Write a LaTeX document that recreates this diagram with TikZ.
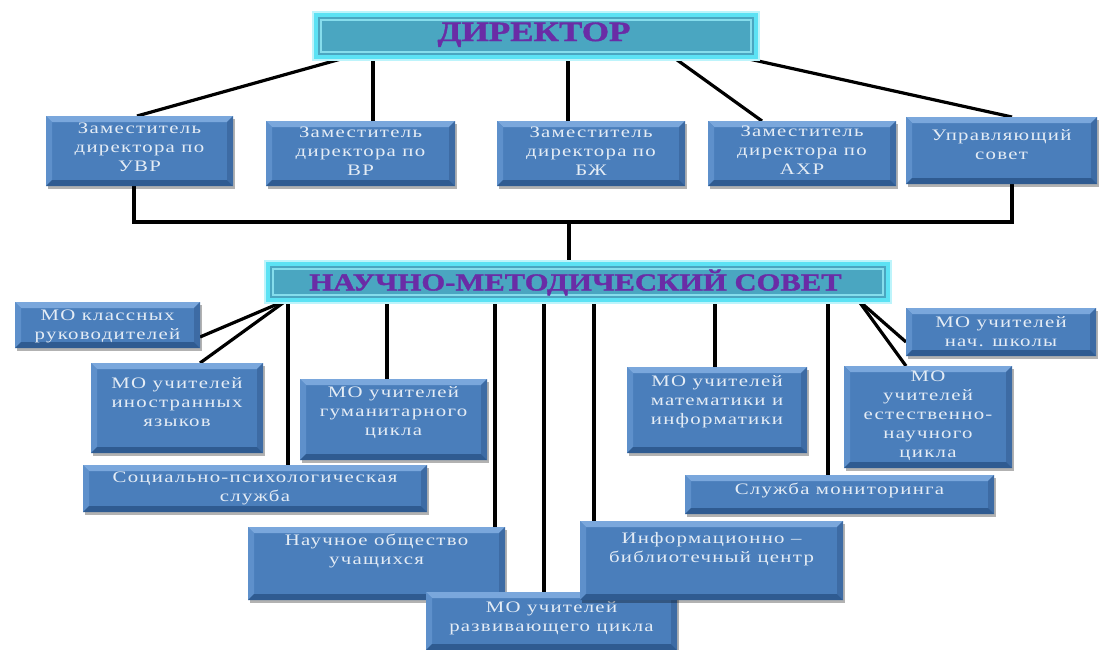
\documentclass[tikz,border=0pt]{standalone}
\usepackage{fontspec}
\setmainfont{Liberation Serif}
\newfontfamily\bxfont{Liberation Serif}[FakeStretch=1.3,LetterSpace=8]
\newfontfamily\ttlfont{Liberation Serif}[FakeStretch=1.25,FakeBold=1.5]
\usetikzlibrary{shadows,backgrounds,calc}
\definecolor{bxmid}{HTML}{4A7EBB}
\definecolor{bxtop}{HTML}{7AA7DC}
\definecolor{bxleft}{HTML}{5E90CB}
\definecolor{bxright}{HTML}{3D6BA4}
\definecolor{bxbot}{HTML}{2F5B91}
\definecolor{bxtext}{HTML}{E4ECF5}
\definecolor{cyband}{HTML}{5CE2F4}
\definecolor{cyglow}{HTML}{BDF4FB}
\definecolor{cyfill}{HTML}{4AA6C1}
\definecolor{cyinner}{HTML}{86DDEC}
\definecolor{ttl}{HTML}{6A2CA6}
\tikzset{
  bx/.style={fill=bxmid, inner sep=0pt, outer sep=0pt,
    drop shadow={shadow xshift=2pt, shadow yshift=-3pt, opacity=.3, fill=black},
    path picture={
      \path (path picture bounding box.north west) coordinate (bbA)
            (path picture bounding box.north east) coordinate (bbB)
            (path picture bounding box.south east) coordinate (bbC)
            (path picture bounding box.south west) coordinate (bbD);
      \fill[bxtop] (bbA) -- (bbB) -- ([shift={(-6pt,-6pt)}]bbB) -- ([shift={(6pt,-6pt)}]bbA) -- cycle;
      \fill[bxleft] (bbA) -- ([shift={(6pt,-6pt)}]bbA) -- ([shift={(6pt,6pt)}]bbD) -- (bbD) -- cycle;
      \fill[bxright] (bbB) -- (bbC) -- ([shift={(-6pt,6pt)}]bbC) -- ([shift={(-6pt,-6pt)}]bbB) -- cycle;
      \fill[bxbot] (bbD) -- (bbC) -- ([shift={(-6pt,6pt)}]bbC) -- ([shift={(6pt,6pt)}]bbD) -- cycle;
    }},
  tx/.style={text=bxtext, align=center, inner sep=0pt, font=\bxfont\fontsize{16}{19}\selectfont},
  cy/.style={fill=cyfill, draw=cyband, line width=4pt, inner sep=0pt, outer sep=0pt,
    preaction={draw=cyglow, line width=8pt},
    path picture={\draw[cyinner, line width=1.2pt]
      ([shift={(5pt,-5pt)}]path picture bounding box.north west) rectangle
      ([shift={(-5pt,5pt)}]path picture bounding box.south east);}},
  ttltx/.style={text=ttl, inner sep=0pt, anchor=base},
  ln/.style={line width=3.2pt, black}
}
\begin{document}
\begin{tikzpicture}[x=1pt,y=-1pt]
\useasboundingbox (0,0) rectangle (1102,649);
% title boxes
\node[cy, minimum width=440pt, minimum height=42pt] (dir) at (536,36) {};
\node[ttltx, font=\ttlfont\bfseries\fontsize{28}{32}\selectfont] (dirT) at (534,41) {ДИРЕКТОР};
\node[cy, minimum width=620pt, minimum height=36pt] (nms) at (578,282) {};
\node[ttltx, font=\ttlfont\bfseries\fontsize{24.5}{28}\selectfont] (nmsT) at (575.5,290.5) {НАУЧНО-МЕТОДИЧЕСКИЙ СОВЕТ};
% top row
\node[bx, minimum width=187pt, minimum height=70pt] (uvr) at (139.5,151) {};
\node[tx] (uvrT) at (139.5,147) {Заместитель\\директора по\\УВР};
\node[bx, minimum width=189pt, minimum height=65pt] (vr) at (360.5,153.5) {};
\node[tx] (vrT) at (360.5,151) {Заместитель\\директора по\\ВР};
\node[bx, minimum width=188pt, minimum height=65pt] (bzh) at (591,153.5) {};
\node[tx] (bzhT) at (591,151) {Заместитель\\директора по\\БЖ};
\node[bx, minimum width=188pt, minimum height=65pt] (ahr) at (802,153.5) {};
\node[tx] (ahrT) at (802,150) {Заместитель\\директора по\\АХР};
\node[bx, minimum width=191pt, minimum height=67pt] (upr) at (1001.5,150.5) {};
\node[tx] (uprT) at (1001.5,145) {Управляющий\\совет};
% lower boxes
\node[bx, minimum width=185pt, minimum height=46pt] (mokl) at (107.5,325) {};
\node[tx] (moklT) at (107.5,326) {МО классных\\руководителей};
\node[bx, minimum width=172pt, minimum height=90pt] (moin) at (177,408) {};
\node[tx] (moinT) at (177,402) {МО учителей\\иностранных\\языков};
\node[bx, minimum width=187pt, minimum height=81pt] (gum) at (393.5,419.5) {};
\node[tx] (gumT) at (393.5,413) {МО учителей\\гуманитарного\\цикла};
\node[bx, minimum width=344pt, minimum height=47pt] (soc) at (255,488.5) {};
\node[tx] (socT) at (255,488) {Социально-психологическая\\служба};
\node[bx, minimum width=257pt, minimum height=73pt] (nauch) at (376.5,563.5) {};
\node[tx] (nauchT) at (376.5,551) {Научное общество\\учащихся};
\node[bx, minimum width=251pt, minimum height=58pt] (razv) at (551.5,621) {};
\node[tx] (razvT) at (551.5,618) {МО учителей\\развивающего цикла};
\node[bx, minimum width=263pt, minimum height=79pt] (info) at (711.5,560.5) {};
\node[tx] (infoT) at (711.5,549) {Информационно –\\библиотечный центр};
\node[bx, minimum width=180pt, minimum height=86pt] (math) at (717,410) {};
\node[tx] (mathT) at (717,402) {МО учителей\\математики и\\информатики};
\node[bx, minimum width=168pt, minimum height=102pt] (est) at (928,417) {};
\node[tx] (estT) at (928,416) {МО\\учителей\\естественно-\\научного\\цикла};
\node[bx, minimum width=309pt, minimum height=39pt] (monit) at (839.5,494.5) {};
\node[tx] (monitT) at (839.5,490) {Служба мониторинга};
\node[bx, minimum width=190pt, minimum height=48pt] (nach) at (1001,332) {};
\node[tx] (nachT) at (1001,332) {МО учителей\\нач. школы};
% connectors
\begin{scope}[on background layer]
\fill[white] (0,0) rectangle (1102,649);
\coordinate (d1) at ([xshift=32pt]dir.south west);
\coordinate (d2) at ([xshift=57pt]dir.south west);
\coordinate (d3) at ([xshift=252pt]dir.south west);
\coordinate (d4) at ([xshift=357pt]dir.south west);
\coordinate (d5) at ([xshift=424pt]dir.south west);
\draw[ln] (d1) -- ([xshift=91pt]uvr.north west);
\draw[ln] (d2) -- (d2 |- vr.north);
\draw[ln] (d3) -- (d3 |- bzh.north);
\draw[ln] (d4) -- ([xshift=54pt]ahr.north west);
\draw[ln] (d5) -- ([xshift=106pt]upr.north west);
\coordinate (ub) at ([xshift=88pt]uvr.south west);
\coordinate (rb) at ([xshift=106pt]upr.south west);
\coordinate (hm) at (569,222);
\draw[ln] (ub) |- (hm) -| (rb);
\draw[ln] (hm) -- (hm |- nms.north);
\coordinate (n1) at ([xshift=19pt]nms.south west);
\coordinate (n2) at ([xshift=20pt]nms.south west);
\coordinate (n3) at ([xshift=119pt]nms.south west);
\coordinate (n4) at ([xshift=227pt]nms.south west);
\coordinate (n5) at ([xshift=276pt]nms.south west);
\coordinate (n6) at ([xshift=326pt]nms.south west);
\coordinate (n7) at ([xshift=447pt]nms.south west);
\coordinate (n8) at ([xshift=560pt]nms.south west);
\coordinate (n9) at ([xshift=590pt]nms.south west);
\draw[ln] (n1) -- ([yshift=-12pt]mokl.east);
\draw[ln] (n1) -- ([xshift=109pt]moin.north west);
\draw[ln] (n2) -- (n2 |- soc.north);
\draw[ln] (n3) -- (n3 |- gum.north);
\draw[ln] (n4) -- (n4 |- nauch.north);
\draw[ln] (n5) -- (n5 |- razv.north);
\draw[ln] (n6) -- (n6 |- info.north);
\draw[ln] (n7) -- (n7 |- math.north);
\draw[ln] (n8) -- (n8 |- monit.north);
\draw[ln] (n9) -- ([yshift=-10pt]nach.west);
\draw[ln] (n9) -- ([xshift=62pt]est.north west);
\end{scope}
\end{tikzpicture}
\end{document}
